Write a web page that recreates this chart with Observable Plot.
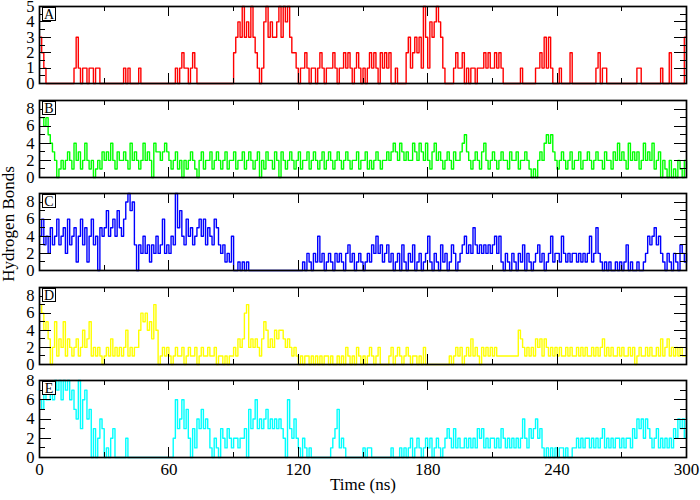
<!DOCTYPE html>
<html>
<head>
<meta charset="utf-8">
<script src="https://cdn.jsdelivr.net/npm/d3@7"></script>
<script src="https://cdn.jsdelivr.net/npm/@observablehq/plot@0.6"></script>
<style>
  html, body { margin: 0; padding: 0; background: #fff; }
  #fig { position: relative; width: 700px; height: 500px; overflow: hidden;
         font-family: "Liberation Serif", "Times New Roman", serif; color: #000; }
  #fig svg { position: absolute; left: 0; background: transparent; }
  .tag { position: absolute; left: 42px; width: 12px; height: 12px; line-height: 13px;
         border: 1px solid #000; background: #fff; font-size: 14px; text-align: center; }
  .ytitle { position: absolute; left: 9px; top: 224px; white-space: nowrap; font-size: 17px;
            transform: translate(-50%, -50%) rotate(-90deg); }
</style>
</head>
<body>
<div id="fig"></div>
<script>
// Hydrogen bonds counted every 1 ns over the 300 ns trajectory (t = 0 … 300)
const time = d3.range(0, 301);

const hbondsA = [
  3,2,1,0,0,0,0,0,0,0, 0,0,0,0,0,0,1,3,1,0, 1,1,0,1,1,0,1,1,0,0,
  0,0,0,0,0,0,0,0,0,1, 0,1,0,0,0,0,1,0,0,0, 0,0,0,0,0,0,0,0,0,0,
  0,0,0,1,0,1,2,1,1,0, 1,2,1,0,0,0,0,0,0,0, 0,0,0,0,0,0,0,0,0,0,
  2,3,4,3,5,3,4,3,5,3, 2,1,0,1,4,5,3,4,3,3, 4,5,3,5,4,5,3,2,2,1,
  0,1,1,2,1,0,1,1,0,1, 2,1,0,1,1,1,2,1,0,1, 1,2,1,2,1,0,1,2,1,0,
  1,0,1,2,1,2,1,0,2,1, 2,1,2,0,0,1,0,0,0,0, 2,3,1,2,3,2,3,1,5,3,
  1,4,3,4,5,4,3,1,0,0, 0,0,1,2,1,1,2,0,1,0, 1,1,0,1,1,1,2,1,2,1,
  1,2,1,2,1,0,0,0,0,0, 0,0,0,1,0,0,0,0,0,0, 1,1,2,1,3,1,3,1,0,0,
  0,1,0,0,0,0,2,0,0,0, 0,0,0,0,0,0,0,0,1,2, 0,1,1,0,0,0,0,0,0,0,
  0,0,0,0,0,0,0,1,1,0, 0,0,0,0,0,0,0,0,1,0, 0,0,2,0,0,0,0,0,0,3,
  3
];

const hbondsB = [
  7,7,6,7,5,4,3,2,0,1, 2,1,2,3,2,1,4,2,3,1, 2,4,2,1,2,0,1,2,1,3,
  2,3,2,4,2,1,3,2,2,3, 2,1,4,2,3,2,1,2,4,2, 3,2,0,4,3,3,2,3,4,3,
  2,1,2,3,1,2,0,2,1,2, 3,2,1,0,2,3,1,2,2,3, 1,2,3,2,1,2,3,1,2,2,
  3,1,2,2,3,1,2,3,2,1, 2,3,0,2,1,3,2,2,1,3, 2,0,3,2,1,2,3,2,1,2,
  3,1,2,2,3,1,2,3,2,1, 2,3,1,2,3,2,1,2,3,2, 1,2,3,2,1,2,2,3,1,2,
  2,3,1,2,1,2,3,2,1,2, 2,3,2,3,4,3,2,4,3,2, 3,2,2,4,3,2,4,3,2,4,
  2,1,3,4,2,3,2,1,2,3, 2,1,3,2,2,3,4,5,3,2, 1,2,3,2,1,3,4,2,1,2,
  3,2,1,2,3,2,2,1,3,2, 2,3,1,2,2,3,2,1,0,1, 0,2,3,2,4,5,4,5,3,2,
  1,2,3,2,1,2,3,1,2,2, 3,1,2,2,3,2,1,2,3,2, 2,1,3,2,2,1,3,2,4,2,
  3,2,1,4,2,3,2,3,1,2, 4,2,3,2,4,1,2,3,0,2, 1,0,2,0,1,0,2,1,0,2,
  1
];

const hbondsC = [
  4,6,3,4,2,5,3,4,6,3, 4,5,2,6,3,4,5,1,4,6, 3,5,1,4,6,3,4,0,5,4,
  5,7,4,5,6,4,7,5,4,6, 8,9,7,8,3,0,3,2,4,2, 3,1,3,2,4,2,3,6,2,3,
  2,4,3,9,5,7,4,3,6,4, 5,3,4,5,6,4,6,3,5,4, 3,6,5,3,2,3,1,2,1,4,
  0,0,1,0,1,0,1,0,0,0, 0,0,0,0,0,0,0,0,0,0, 0,0,0,0,0,0,0,0,0,0,
  0,0,1,0,2,1,0,2,1,4, 1,2,0,1,2,1,0,2,1,2, 1,0,2,3,1,2,0,1,2,1,
  0,1,2,1,3,2,4,2,3,1, 2,3,1,2,0,1,2,0,3,1, 0,2,1,3,0,1,2,0,1,2,
  4,1,0,2,1,0,3,1,2,0, 1,3,2,0,1,2,3,4,2,3, 2,5,3,2,3,2,3,2,3,2,
  3,4,2,4,1,0,2,1,0,2, 1,0,2,1,3,0,2,1,0,1, 2,3,1,2,0,1,2,4,1,2,
  2,1,4,2,1,2,1,2,2,1, 2,1,2,1,2,4,1,2,5,2, 1,0,1,0,1,0,0,1,0,1,
  0,1,3,0,1,0,0,1,0,0, 1,2,4,3,4,5,3,4,2,1, 0,2,1,0,2,1,0,3,2,1,
  2
];

const hbondsD = [
  7,6,4,5,3,0,2,5,1,3, 2,5,1,3,2,1,2,3,1,2, 4,2,3,5,1,2,1,2,1,0,
  1,2,1,3,1,2,1,2,1,2, 4,1,2,1,2,2,4,6,5,6, 4,5,3,7,4,0,1,2,1,2,
  1,0,1,2,1,1,2,0,1,2, 1,1,2,0,1,2,1,1,2,1, 1,2,0,1,1,0,1,0,1,1,
  2,1,3,2,3,6,7,2,3,2, 3,2,1,3,5,4,2,3,2,4, 3,4,4,3,2,3,2,1,2,1,
  0,1,0,1,1,0,1,0,1,0, 1,0,1,1,0,1,0,0,1,0, 1,0,2,1,0,1,0,2,1,0,
  1,0,1,2,1,0,1,2,0,0, 0,0,1,2,0,1,2,1,0,1, 2,1,0,1,1,0,1,0,2,0,
  0,0,0,0,0,0,0,0,0,0, 1,0,1,2,1,2,0,1,2,1, 3,1,2,1,0,2,1,2,1,2,
  1,2,1,1,1,1,1,1,1,1, 1,1,4,3,2,1,2,1,2,1, 3,2,3,1,3,2,1,2,1,2,
  1,2,1,1,2,1,2,1,1,2, 1,2,1,2,1,1,2,1,2,1, 2,3,1,2,1,2,1,1,2,1,
  2,1,1,2,1,2,0,1,2,1, 1,2,1,2,1,1,2,1,3,1, 2,3,1,2,1,2,1,2,1,1,
  2
];

const hbondsE = [
  6,5,7,6,6,7,6,8,7,8, 6,8,7,8,6,7,5,4,8,3, 6,7,4,5,0,3,0,2,4,3,
  0,1,0,2,3,0,0,0,0,0, 2,0,0,0,0,0,0,0,0,0, 0,0,0,0,0,0,0,0,0,0,
  0,0,2,6,3,4,6,3,5,2, 0,3,1,4,3,5,3,4,3,1, 0,2,1,0,3,2,1,3,2,1,
  2,2,1,2,2,3,0,5,3,4, 6,3,4,3,4,5,3,4,3,4, 3,4,3,2,0,6,3,2,4,2,
  1,0,2,1,0,1,0,0,0,0, 0,0,0,0,0,1,2,3,5,1, 2,1,0,0,0,0,0,0,0,0,
  1,0,1,1,0,0,0,0,0,0, 0,0,0,1,0,0,0,1,0,1, 0,1,2,0,1,2,1,0,1,2,
  1,2,0,1,2,1,0,1,2,3, 2,1,3,1,2,1,1,2,1,2, 1,2,1,3,2,3,1,2,1,2,
  2,1,2,1,3,2,1,2,1,2, 1,2,1,2,4,2,1,3,2,3, 4,2,3,1,0,1,0,1,0,1,
  0,1,1,0,1,0,0,1,1,2, 1,2,1,2,2,1,2,1,2,1, 2,3,1,2,1,2,1,2,2,1,
  2,1,2,2,1,3,2,4,3,4, 2,4,3,2,1,2,3,1,2,1, 2,1,2,1,3,2,4,3,4,2,
  4
];

// Axis ticks
const timeTicks = [0, 60, 120, 180, 240, 300];
const timeMinorTicks = [30, 90, 150, 210, 270];
const ticksA = [0, 1, 2, 3, 4, 5];
const minorTicksA = [0.5, 1.5, 2.5, 3.5, 4.5];
const ticksWide = [0, 2, 4, 6, 8];
const minorTicksWide = [1, 3, 5, 7];

// Panel layout: each panel is its own Plot figure stacked on a common time axis
const W = 700, mL = 39, mR = 14, innerW = W - mL - mR, innerH = 77;
const panels = [
  {tag: "A", values: hbondsA, color: "#ff0000", yMax: 5, ticks: ticksA, minor: minorTicksA, top: 6},
  {tag: "B", values: hbondsB, color: "#00ff00", yMax: 9, ticks: ticksWide, minor: minorTicksWide, top: 100},
  {tag: "C", values: hbondsC, color: "#0000ff", yMax: 9, ticks: ticksWide, minor: minorTicksWide, top: 193},
  {tag: "D", values: hbondsD, color: "#ffff00", yMax: 9, ticks: ticksWide, minor: minorTicksWide, top: 287},
  {tag: "E", values: hbondsE, color: "#00ffff", yMax: 8, ticks: ticksWide, minor: minorTicksWide, top: 380}
];

const fig = document.getElementById("fig");
const font = '"Liberation Serif", "Times New Roman", serif';

panels.forEach((p, i) => {
  const last = i === panels.length - 1;
  const mT = i === 0 ? 6 : 10;
  const mB = last ? 43 : 10;
  const rows = time.map((t, j) => ({t, v: p.values[j]}));
  const inward = {stroke: "#000", strokeWidth: 1, shapeRendering: "crispEdges"};

  const marks = [
    Plot.line(rows, {x: "t", y: "v", curve: "step-after", stroke: p.color, strokeWidth: 1.4}),
    // frame drawn over the series so zero-valued stretches sit under the axis line
    Plot.frame({stroke: "#000", strokeWidth: 1.7}),
    // inward ticks on all four sides
    Plot.tickY(p.ticks, {y: d => d, insetRight: innerW - 12, ...inward}),
    Plot.tickY(p.minor, {y: d => d, insetRight: innerW - 6, ...inward}),
    Plot.tickY(p.ticks, {y: d => d, insetLeft: innerW - 12, ...inward}),
    Plot.tickY(p.minor, {y: d => d, insetLeft: innerW - 6, ...inward}),
    Plot.tickX(timeTicks, {x: d => d, insetBottom: innerH - 10, ...inward}),
    Plot.tickX(timeMinorTicks, {x: d => d, insetBottom: innerH - 5, ...inward}),
    Plot.tickX(timeTicks, {x: d => d, insetTop: innerH - 10, ...inward}),
    Plot.tickX(timeMinorTicks, {x: d => d, insetTop: innerH - 5, ...inward}),
    Plot.axisY(p.ticks, {tickSize: 0, tickPadding: 5, fontSize: 16.5, label: null})
  ];
  if (last) {
    marks.push(
      Plot.axisX(timeTicks, {tickSize: 0, tickPadding: 5, fontSize: 17, label: null}),
      Plot.text(["Time (ns)"], {frameAnchor: "bottom", dy: 32, fontSize: 17, fill: "#000"})
    );
  }

  const svg = Plot.plot({
    width: W,
    height: innerH + mT + mB,
    marginLeft: mL, marginRight: mR, marginTop: mT, marginBottom: mB,
    style: {fontFamily: font, fontSize: "17px", color: "#000", background: "transparent", overflow: "visible"},
    x: last ? {domain: [0, 300]} : {domain: [0, 300], axis: null},
    y: {domain: [0, p.yMax]},
    marks
  });
  svg.style.top = (p.top - mT) + "px";
  fig.appendChild(svg);

  const tag = document.createElement("div");
  tag.className = "tag";
  tag.style.top = (p.top + 1) + "px";
  tag.textContent = p.tag;
  fig.appendChild(tag);
});

const ytitle = document.createElement("div");
ytitle.className = "ytitle";
ytitle.textContent = "Hydrogen Bonds";
fig.appendChild(ytitle);
</script>
</body>
</html>
